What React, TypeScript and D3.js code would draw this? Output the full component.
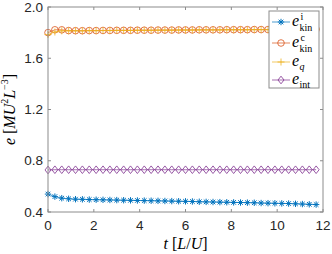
import React from 'react'
import * as d3 from 'd3'

const time = [
	0, 0.3, 0.6, 0.9, 1.2, 1.5, 1.8, 2.1, 2.4, 2.7, 3.0, 3.3, 3.6, 3.9, 4.2, 4.5, 4.8, 5.1, 5.4, 5.7,
	6.0, 6.3, 6.6, 6.9, 7.2, 7.5, 7.8, 8.1, 8.4, 8.7, 9.0, 9.3, 9.6, 9.9, 10.2, 10.5, 10.8, 11.1, 11.4, 11.7,
]
const eKinI = [
	0.54, 0.52, 0.508, 0.503, 0.5, 0.499, 0.497, 0.496, 0.495, 0.494, 0.493, 0.492, 0.491, 0.49, 0.489,
	0.488, 0.487, 0.486, 0.485, 0.484, 0.483, 0.482, 0.48, 0.479, 0.478, 0.477, 0.476, 0.475, 0.474,
	0.473, 0.472, 0.47, 0.469, 0.468, 0.467, 0.466, 0.464, 0.462, 0.46, 0.458,
]
const eKinC = [
	1.8, 1.822, 1.822, 1.816, 1.815, 1.815, 1.816, 1.816, 1.817, 1.817, 1.818, 1.818, 1.818, 1.819,
	1.819, 1.819, 1.82, 1.82, 1.82, 1.821, 1.821, 1.821, 1.822, 1.822, 1.822, 1.822, 1.823, 1.823,
	1.823, 1.823, 1.824, 1.824, 1.824, 1.824, 1.825, 1.825, 1.825, 1.825, 1.826, 1.826,
]
const eQ = [
	1.785, 1.805, 1.814, 1.814, 1.814, 1.814, 1.815, 1.815, 1.816, 1.816, 1.817, 1.817, 1.817, 1.818,
	1.818, 1.818, 1.819, 1.819, 1.819, 1.82, 1.82, 1.82, 1.821, 1.821, 1.821, 1.821, 1.822, 1.822,
	1.822, 1.822, 1.823, 1.823, 1.823, 1.823, 1.824, 1.824, 1.824, 1.824, 1.825, 1.825,
]
const eInt = [
	0.728, 0.73, 0.73, 0.73, 0.73, 0.73, 0.73, 0.73, 0.73, 0.73, 0.73, 0.73, 0.73, 0.73, 0.73, 0.73,
	0.73, 0.73, 0.73, 0.73, 0.73, 0.73, 0.73, 0.73, 0.73, 0.73, 0.73, 0.73, 0.73, 0.73, 0.73, 0.73,
	0.73, 0.73, 0.73, 0.73, 0.73, 0.73, 0.73, 0.73,
]
const xTicks = [0, 2, 4, 6, 8, 10, 12]
const yTicks = [0.4, 0.8, 1.2, 1.6, 2.0]

const seriesNames = ['kinI', 'kinC', 'q', 'int']
const seriesValues = [eKinI, eKinC, eQ, eInt]
const seriesColors = ['#0072BD', '#D95319', '#EDB120', '#7E2F8E']
const seriesMarkers = ['star', 'circle', 'plus', 'diamond']

const margin = { top: 7, right: 9, bottom: 42, left: 48 }
const W = 332
const H = 254
const serif = "'Liberation Serif', 'DejaVu Serif', serif"

const Marker = ({ kind, x, y, color }: { kind: string; x: number; y: number; color: string }) => {
	if (kind === 'circle') return <circle cx={x} cy={y} r={3.3} fill="none" stroke={color} strokeWidth={0.8} />
	if (kind === 'diamond')
		return (
			<path
				d={`M${x},${y - 3.8}L${x + 3},${y}L${x},${y + 3.8}L${x - 3},${y}Z`}
				fill="none"
				stroke={color}
				strokeWidth={0.8}
			/>
		)
	if (kind === 'plus')
		return <path d={`M${x - 3.5},${y}H${x + 3.5}M${x},${y - 3.5}V${y + 3.5}`} stroke={color} strokeWidth={0.8} />
	const s = 3.2
	const d = 2.3
	return (
		<path
			d={`M${x - s},${y}H${x + s}M${x},${y - s}V${y + s}M${x - d},${y - d}L${x + d},${y + d}M${x - d},${y + d}L${x + d},${y - d}`}
			stroke={color}
			strokeWidth={1}
		/>
	)
}

const LegendLabel = ({ x, y, sup, sub }: { x: number; y: number; sup?: string; sub: string }) => (
	<g fontFamily={serif} fill="#000">
		<text x={x} y={y + 4} fontSize={16} fontStyle="italic">e</text>
		{sup && (
			<text x={x + 8.5} y={y - 2.5} fontSize={10}>
				{sup}
			</text>
		)}
		<text x={x + 7.5} y={y + (sup ? 8.5 : 7.5)} fontSize={10} fontStyle={sub === 'q' ? 'italic' : 'normal'}>
			{sub}
		</text>
	</g>
)

const App = () => {
	const innerW = W - margin.left - margin.right
	const innerH = H - margin.top - margin.bottom
	const x = d3.scaleLinear().domain([0, 12]).range([margin.left, margin.left + innerW])
	const y = d3.scaleLinear().domain([0.4, 2.0]).range([margin.top + innerH, margin.top])
	const line = d3
		.line<number>()
		.x((_, i) => x(time[i]))
		.y((d) => y(d))

	const x0 = margin.left
	const x1 = margin.left + innerW
	const y0 = margin.top + innerH
	const y1 = margin.top
	const axisColor = '#8c8c8c'
	const tickFont = "'Liberation Sans', Arial, sans-serif"

	const legendX = 269
	const legendRows = [22, 43, 62, 80]
	const legendSup = ['i', 'c', undefined, undefined]
	const legendSub = ['kin', 'kin', 'q', 'int']

	return (
		<svg width={W} height={H} style={{ position: 'absolute', left: 0, top: 0, background: '#fff' }}>
			{seriesValues.map((vals, k) => (
				<g key={seriesNames[k]}>
					<path d={line(vals) ?? ''} fill="none" stroke={seriesColors[k]} strokeWidth={0.7} />
					{vals.map((v, i) => (
						<Marker key={i} kind={seriesMarkers[k]} x={x(time[i])} y={y(v)} color={seriesColors[k]} />
					))}
				</g>
			))}

			<rect x={x0} y={y1} width={innerW} height={innerH} fill="none" stroke={axisColor} strokeWidth={1} />
			{xTicks.map((t) => (
				<g key={'x' + t}>
					<line x1={x(t)} x2={x(t)} y1={y0} y2={y0 - 3} stroke={axisColor} />
					<line x1={x(t)} x2={x(t)} y1={y1} y2={y1 + 3} stroke={axisColor} />
					<text x={x(t)} y={y0 + 18} textAnchor="middle" fontSize={13.5} fontFamily={tickFont} fill="#262626">
						{t}
					</text>
				</g>
			))}
			{yTicks.map((t) => (
				<g key={'y' + t}>
					<line x1={x0} x2={x0 + 3} y1={y(t)} y2={y(t)} stroke={axisColor} />
					<line x1={x1} x2={x1 - 3} y1={y(t)} y2={y(t)} stroke={axisColor} />
					<text
						x={x0 - 5}
						y={y(t) + 4.5}
						textAnchor="end"
						fontSize={13.5}
						fontFamily={tickFont}
						fill="#262626"
					>
						{t.toFixed(1)}
					</text>
				</g>
			))}

			<text x={(x0 + x1) / 2} y={249} textAnchor="middle" fontSize={16} fontFamily={serif} fill="#000">
				<tspan fontStyle="italic">t</tspan>
				<tspan> [</tspan>
				<tspan fontStyle="italic">L</tspan>
				<tspan>/</tspan>
				<tspan fontStyle="italic">U</tspan>
				<tspan>]</tspan>
			</text>
			<text
				transform={`translate(15,${(y0 + y1) / 2}) rotate(-90)`}
				textAnchor="middle"
				fontSize={16}
				fontFamily={serif}
				fill="#000"
			>
				<tspan fontStyle="italic">e</tspan>
				<tspan> [</tspan>
				<tspan fontStyle="italic">MU</tspan>
				<tspan fontSize={10} dy={-7}>2</tspan>
				<tspan fontStyle="italic" dy={7}>L</tspan>
				<tspan fontSize={10} dy={-7}>−3</tspan>
				<tspan dy={7}>]</tspan>
			</text>

			<rect x={legendX} y={11} width={50} height={77} fill="#fff" stroke={axisColor} strokeWidth={1} />
			{legendRows.map((ry, k) => (
				<g key={'lg' + k}>
					<line x1={legendX + 3} x2={legendX + 21} y1={ry} y2={ry} stroke={seriesColors[k]} strokeWidth={0.7} />
					<Marker kind={seriesMarkers[k]} x={legendX + 12} y={ry} color={seriesColors[k]} />
					<LegendLabel x={legendX + 23} y={ry} sup={legendSup[k]} sub={legendSub[k]} />
				</g>
			))}
		</svg>
	)
}

export default App
